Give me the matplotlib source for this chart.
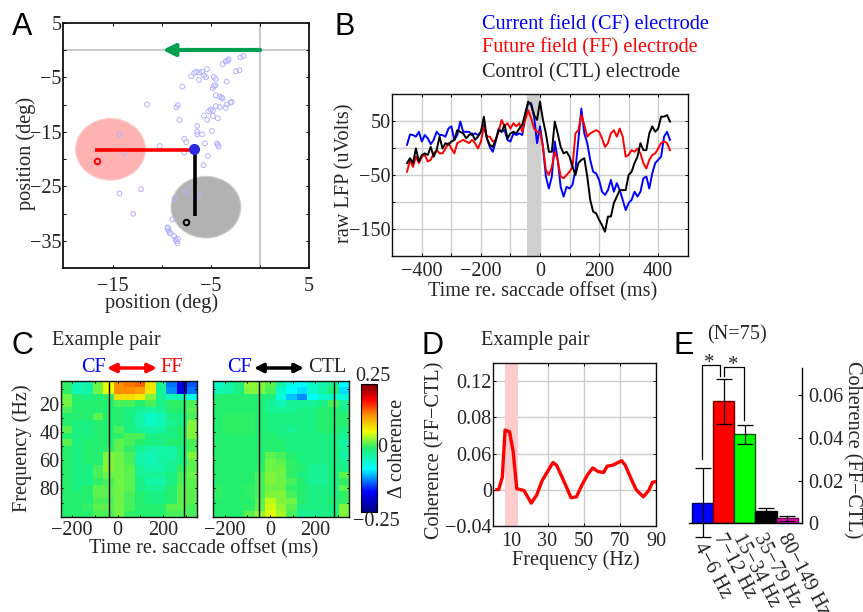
import matplotlib
matplotlib.use('Agg')
import matplotlib.pyplot as plt
import numpy as np
from matplotlib.colors import LinearSegmentedColormap
from matplotlib.patches import Ellipse

plt.rcParams['font.family'] = ['Liberation Serif', 'DejaVu Sans']
plt.rcParams['font.size'] = 14.6
plt.rcParams['text.color'] = '#262626'
plt.rcParams['axes.labelcolor'] = '#262626'
plt.rcParams['xtick.labelcolor'] = '#262626'
plt.rcParams['ytick.labelcolor'] = '#262626'

W, H = 863, 612

# panel A
rf_x = [-1.7, -2.0, -3.2, -3.3, -3.5, -3.8, -5.4, -2.1, -2.45, -5.9, -6.2, -6.5, -6.7, -7.0, -5.7, -5.5, -6.2,
        -4.7, -4.5, -3.4, -4.55, -4.7, -4.8, -7.9, -4.5, -4.1, -3.9, -3.8, -2.9, -3.0, -3.4, -4.5, -4.1, -3.5,
        -11.5, -8.35, -8.5, -5.0, -5.2, -4.8, -5.7, -4.8, -4.3, -5.4, -8.2, -6.4, -6.4, -4.9, -6.4, -5.9, -14.3,
        -7.7, -7.5, -5.6, -4.4, -4.3, -4.2, -10.2, -13.8, -7.7, -5.3, -5.75, -6.8, -7.5, -6.3, -14.3, -12.1,
        -6.6, -8.7, -12.9, -8.9, -9.4, -9.4, -9.3, -9.2, -9.1, -8.75, -8.6, -8.35, -8.5, -8.4]
rf_y = [-1.1, -1.35, -1.7, -2.0, -2.1, -2.6, -3.5, -3.7, -3.9, -4.0, -4.1, -4.0, -4.2, -4.8, -4.65, -5.0, -5.5,
        -4.95, -5.3, -5.8, -6.5, -6.6, -7.0, -6.7, -8.3, -8.55, -8.7, -8.9, -9.5, -9.65, -10.0, -10.3, -10.45, -10.6,
        -10.0, -10.1, -10.5, -10.9, -11.2, -11.1, -12.0, -12.1, -12.5, -12.8, -12.8, -13.9, -15.0, -14.85, -15.45, -15.45, -15.45,
        -16.25, -16.9, -17.1, -17.1, -17.4, -17.7, -17.6, -18.8, -18.8, -19.4, -21.1, -24.8, -26.0, -26.6, -26.3, -25.5,
        -27.4, -27.2, -30.0, -31.0, -32.5, -32.7, -33.1, -33.5, -33.6, -34.1, -34.7, -34.6, -35.0, -35.4]
cf_pos = (-6.7, -18.2)
ff_center = (-15.2, -18.2)
ctl_center = (-5.5, -28.8)
field_size = (7.1, 11.3)
ff_site = (-16.6, -20.4)
ctl_site = (-7.5, -31.6)
ff_line_x = [-16.8, -6.6]
ff_line_y = [-18.3, -18.3]
ctl_line_x = [-6.6, -6.6]
ctl_line_y = [-18.3, -30.4]

# panel B
lfp_t = list(range(-450, 450, 10))
lfp_cf = [6, 25, 24, 21, 30, 12, 24, 18, 7, 15, 30, 24, 24, 21, 36, 40, 15, 24, 49, 30, 30, 30, 24, 27, 24, 30, 43, 18, 2, -7,
          12, 36, 30, 33, 15, 12, 27, 24, 27, 24, 61, 83, 83, 58, 9, 40, 2, -53, -75, -53, 12, -22, -72, -90, -72, -75, -68, -40, 15, 73,
          27, 9, -22, -44, -47, -59, -81, -87, -78, -59, -81, -65, -78, -96, -115, -102, -96, -81, -90, -81, -56, -53, -75, -47, -28, -22, -16, 21, 30, 15]
lfp_ff = [-44, -22, -35, -16, -28, -16, -13, -25, -22, -10, -4, -10, -10, -1, 9, -1, -10, 9, 12, 15, 12, 9, 15, 9, -1, 12, 40, 21, 21, 12,
          15, 30, 52, 40, 46, 36, 46, 40, 46, 30, 52, 70, 55, 36, 30, 30, 2, -41, -50, -35, -7, -22, -53, -56, -50, -44, -35, 27, 33, 61,
          43, 21, 27, 30, 33, 30, 18, 2, 9, 27, 33, 21, 36, 21, -16, -13, -4, -7, -1, -10, -28, -38, -22, -13, -10, -1, 9, 12, 9, -4]
lfp_ctl = [-28, -19, -28, -1, -25, -13, -10, -13, 2, -16, -4, 21, -1, 9, 6, 12, 15, 33, 30, 27, 18, 24, 27, 15, 21, 30, 58, 18, 6, 2,
           15, 33, 30, 43, 18, 27, 30, 27, 36, 43, 64, 86, 80, 61, 52, 86, 52, 27, -7, -7, 49, 27, 2, -10, -7, -16, -35, -50, -28, -22,
           -19, -53, -96, -118, -121, -133, -143, -155, -127, -127, -102, -90, -78, -78, -78, -50, -44, -28, -16, 9, -4, -4, 27, 40, 30, 36, 58, 58, 61, 49]
gray_band = (-45, 0)

# panel C, delta coherence, rows top to bottom
coh_ff = [
    [.005, -.04, -.03, .025, .065, .13, .14, .15, .08, -.02, -.13, -.19, -.14],
    [.005, -.04, -.03, .025, .065, .13, .13, .12, .08, -.02, -.12, -.18, -.13],
    [.025, 0, -.01, 0, .005, .085, .085, .075, .03, -.02, -.04, -.04, -.07],
    [.025, 0, 0, 0, 0, .012, .012, 0, .012, -.01, .005, .005, .012],
    [.012, 0, 0, 0, 0, 0, -.01, -.02, -.03, -.02, 0, 0, .018],
    [0, 0, 0, .018, 0, 0, -.01, -.03, -.05, -.04, -.01, -.01, .012],
    [0, -.01, -.01, 0, 0, 0, -.01, -.03, -.05, -.04, -.02, -.01, .03],
    [.018, -.01, -.01, 0, 0, .012, -.01, -.02, -.03, -.03, -.01, 0, .03],
    [0, -.01, -.01, 0, 0, .005, .012, .012, -.01, -.01, -.01, 0, .03],
    [.018, -.01, 0, 0, 0, .018, .012, 0, -.01, -.01, 0, 0, .012],
    [0, -.01, 0, 0, .005, .018, .005, -.02, -.03, -.03, -.03, -.01, .012],
    [0, -.01, 0, 0, .03, .025, .012, -.03, -.04, -.03, -.03, -.01, .03],
    [0, -.01, 0, 0, .03, .025, .012, -.03, -.04, -.03, -.02, -.01, .018],
    [0, -.01, -.01, .012, .03, .025, .018, -.02, -.03, -.03, -.02, .005, .018],
    [0, -.01, -.01, .012, .025, .025, .018, -.02, -.02, -.02, -.01, .012, .025],
    [0, -.01, -.01, .005, .012, .025, .018, -.01, -.03, -.03, -.01, .012, .018],
    [0, -.01, 0, .018, .018, .025, .018, -.01, -.02, -.02, 0, .018, .018],
    [0, 0, 0, .018, .018, .025, .012, 0, -.01, -.01, 0, .018, .018],
    [0, 0, 0, .012, .012, .025, .012, 0, -.01, -.01, 0, .018, .018],
    [0, 0, .005, .018, .018, .025, .012, 0, 0, 0, .018, .018, .012],
    [0, 0, 0, .012, .012, .025, .005, 0, 0, 0, .012, .012, .012],
]
coh_ctl = [
    [-.05, -.03, -.01, .036, .03, .018, -.03, -.07, -.08, -.05, -.03, -.02, -.08],
    [-.04, -.03, -.01, .03, .03, .012, -.05, -.08, -.09, -.05, -.03, 0, -.09],
    [0, 0, 0, 0, 0, -.01, -.06, -.10, -.12, -.08, -.05, -.05, -.06],
    [0, 0, 0, 0, 0, -.02, -.04, -.02, -.02, -.02, -.01, .012, -.02],
    [0, 0, 0, 0, 0, -.02, -.02, -.02, -.01, -.01, 0, 0, -.01],
    [0, .005, .005, .005, 0, -.01, -.01, -.01, -.01, -.01, 0, 0, 0],
    [0, .005, .005, .005, 0, -.01, -.01, -.01, -.01, -.01, 0, 0, 0],
    [0, .005, .005, .005, 0, -.01, -.01, -.02, -.01, -.01, 0, 0, -.01],
    [0, 0, 0, 0, 0, 0, -.01, -.01, -.01, -.01, -.01, -.01, -.02],
    [0, 0, 0, 0, 0, 0, 0, -.01, -.01, -.01, -.01, -.01, -.03],
    [0, 0, 0, 0, 0, 0, 0, -.01, -.01, -.01, -.01, -.01, -.02],
    [0, 0, 0, 0, 0, .018, .012, 0, -.01, -.01, -.01, -.01, -.03],
    [0, 0, 0, 0, 0, .025, .018, .005, -.01, -.01, -.01, -.01, -.02],
    [0, 0, 0, 0, .005, .025, .025, .005, 0, -.02, -.02, -.01, -.01],
    [0, 0, 0, 0, .012, .03, .025, .005, -.01, -.02, -.02, -.01, .018],
    [0, 0, 0, 0, .012, .03, .025, .012, 0, -.02, -.02, -.01, .005],
    [.005, 0, 0, .005, .012, .025, .025, .005, 0, -.01, -.01, -.01, .018],
    [.005, 0, 0, .005, .012, .03, .03, .012, 0, -.01, -.01, -.01, .005],
    [0, 0, 0, 0, .018, .05, .03, .025, 0, -.01, -.01, 0, .005],
    [0, 0, 0, .005, .018, .055, .036, .018, -.01, -.01, -.01, -.01, .03],
    [0, 0, 0, .018, .036, .06, .042, .012, -.02, -.02, -.01, -.01, .03],
]
event_ff = [-38, 290]
event_ctl = [-47, 284]

# panel D
spec_f = [2, 3, 5, 6.5, 9, 11, 13, 15, 17, 19, 21, 24, 27, 30, 33, 35, 38, 40, 43, 46, 49, 52, 55, 58, 61, 63, 66, 69, 71, 73, 76, 79, 83, 86, 88, 90]
spec_c = [0, 0, .014, .066, .064, .042, .001, 0, -.001, -.008, -.015, -.006, .01, .02, .03, .027, .014, .005, -.009, -.008, .005, .016, .024, .02, .019, .026, .027, .03, .032, .027, .013, 0, -.008, -.001, .008, .009]
alpha_band = (6.6, 13.5)
spec_yticks = [-.04, 0, .04, .08, .12]
spec_yticklabels = ['−0.04', '0', '0.06', '0.08', '0.12']

# panel E
bands = ['4−6 Hz', '7−12 Hz', '15−34 Hz', '35−79 Hz', '80−149 Hz']
band_coh = [.0097, .057, .0416, .0056, .0023]
band_err = [.0162, .0105, .0045, .0015, .0013]
band_col = ['#0000ff', '#ff0000', '#00ff00', '#000000', '#ff00cc']
band_edge = ['#000066', '#660000', '#005500', '#000000', '#660044']


def add_ax(left, top, right, bottom):
    return fig.add_axes([left/W, 1-bottom/H, (right-left)/W, (bottom-top)/H])


def ftxt(x, y, s, ha='center', va='center', **kw):
    return fig.text(x/W, 1-y/H, s, ha=ha, va=va, **kw)


def farrow(x0, x1, y, style, color, lw=2.5):
    fig.add_artist(matplotlib.patches.FancyArrowPatch((x0/W, 1-y/H), (x1/W, 1-y/H), transform=fig.transFigure,
                                                      arrowstyle=style, mutation_scale=13, color=color, lw=lw,
                                                      shrinkA=0, shrinkB=0))


def style_ticks(ax, lw=1.0, length=2.5, xpad=4.5):
    ax.tick_params(which='both', direction='in', top=True, right=True, length=length, width=0.7)
    ax.tick_params(axis='y', pad=1)
    ax.tick_params(axis='x', pad=xpad)
    for s in ax.spines.values():
        s.set_linewidth(lw)
        s.set_color('#111111')


fig = plt.figure(figsize=(W/100, H/100), dpi=100)

for x, y, s in [(22, 27, 'A'), (345, 27, 'B'), (22, 346, 'C'), (433, 346, 'D'), (684, 346, 'E')]:
    ftxt(x, y, s, fontsize=22, color='black', family='Liberation Sans')

# A
ax = add_ax(63.3, 22.7, 309.3, 268.3)
ax.axhline(0, color='#c0c0c0', lw=1.2, zorder=1)
ax.axvline(0, color='#c0c0c0', lw=1.2, zorder=1)
ax.add_patch(Ellipse(ff_center, field_size[0], field_size[1], fc='#ffb2b2', ec='#ffd0d0', lw=0.8, zorder=1))
ax.add_patch(Ellipse(ctl_center, field_size[0], field_size[1], fc='#b2b2b2', ec='#d0d0d0', lw=0.8, zorder=1))
ax.scatter(rf_x, rf_y, s=12, facecolors='none', edgecolors='#b3b3ff', linewidths=0.7, zorder=2)
ax.plot(ff_line_x, ff_line_y, color='red', lw=2.6, solid_capstyle='butt', zorder=3)
ax.plot(ctl_line_x, ctl_line_y, color='black', lw=2.6, solid_capstyle='butt', zorder=3)
ax.plot(*cf_pos, 'o', color='#2a2ae0', ms=7, zorder=4)
ax.plot(*ff_site, 'o', mfc='#ffb2b2', mec='red', mew=1.4, ms=4, zorder=4)
ax.plot(*ctl_site, 'o', mfc='#b2b2b2', mec='black', mew=1.4, ms=4, zorder=4)
ax.annotate('', xy=(-9.9, 0), xytext=(0, 0),
            arrowprops=dict(arrowstyle='-|>', color='#009e4f', lw=3, mutation_scale=18, shrinkA=0, shrinkB=0), zorder=5)
ax.set_xlim(-20, 5)
ax.set_ylim(-40, 5)
ax.set_xticks([-15, -10, -5, 0, 5])
ax.set_xticklabels(['−15', '', '−5', '', '5'])
ax.set_yticks([5, 0, -5, -10, -15, -20, -25, -30, -35])
ax.set_yticklabels(['5', '', '−5', '', '−15', '', '−25', '', '−35'])
style_ticks(ax, lw=1.3, xpad=6)
ftxt(26, 153, 'position (deg)', rotation=90)
ftxt(162, 303, 'position (deg)')

# B
ax = add_ax(392.3, 94, 687.7, 256)
ax.grid(True, color='#cccccc', lw=1)
ax.set_axisbelow(True)
ax.axvspan(gray_band[0], gray_band[1], color='#cfcfcf', lw=0, zorder=1)
ax.plot(lfp_t, lfp_cf, color='#0000ff', lw=1.4, zorder=3)
ax.plot(lfp_t, lfp_ff, color='#ff0000', lw=1.4, zorder=3)
ax.plot(lfp_t, lfp_ctl, color='#000000', lw=1.4, zorder=4)
ax.set_xlim(-500, 500)
ax.set_ylim(-200, 100)
ax.set_xticks([-400, -300, -200, -100, 0, 100, 200, 300, 400])
ax.set_xticklabels(['−400', '', '−200', '', '0', '', '200', '', '400'])
ax.set_yticks([-150, -100, -50, 0, 50])
ax.set_yticklabels(['−150', '', '−50', '', '50'])
style_ticks(ax)
ftxt(345, 173, 'raw LFP (uVolts)', rotation=90)
ftxt(543, 292, 'Time re. saccade offset (ms)')
ftxt(481.5, 25, 'Current field (CF) electrode', ha='left', color='#0000ff')
ftxt(481.5, 48, 'Future field (FF) electrode', ha='left', color='#ff0000')
ftxt(481.5, 73, 'Control (CTL) electrode', ha='left', color='#262626')

# C
cmap = LinearSegmentedColormap.from_list('coh', [
    (0, '#00007f'), (.16, '#0000ff'), (.34, '#00ffff'), (.5, '#20ee70'), (.63, '#eeff00'),
    (.76, '#ff9000'), (.88, '#ff0000'), (1, '#7f0000')])
for i, (mat, ev, box) in enumerate([(coh_ff, event_ff, (60.7, 197.3)), (coh_ctl, event_ctl, (213.3, 349.3))]):
    ax = add_ax(box[0], 381, box[1], 516.7)
    im = ax.imshow(np.array(mat), cmap=cmap, vmin=-.25, vmax=.25, aspect='auto',
                   extent=[-250, 350, 100, 4], interpolation='nearest')
    for e in ev:
        ax.axvline(e, color='black', lw=1)
    ax.set_xticks([-200, -100, 0, 100, 200, 300])
    ax.set_xticklabels(['−200', '', '0', '', '200', ''])
    ax.set_yticks([10, 20, 30, 40, 50, 60, 70, 80, 90])
    if i == 0:
        ax.set_yticklabels(['', '20', '', '40', '', '60', '', '80', ''])
    else:
        ax.set_yticklabels([])
    style_ticks(ax, length=1.5, xpad=3)
ftxt(22, 448, 'Frequency (Hz)', rotation=90)
ftxt(204, 549, 'Time re. saccade offset (ms)')
ftxt(106, 340.5, 'Example pair')
ftxt(93, 367.5, 'CF', color='#0000ff')
ftxt(172, 367, 'FF', color='#ff0000')
ftxt(239, 367.5, 'CF', color='#0000ff')
ftxt(327, 367.5, 'CTL')
farrow(107, 157, 368, '<|-|>', 'red')
farrow(254, 304, 368, '<|-|>', 'black')

cax = add_ax(361, 384.3, 376.7, 512.3)
cb = fig.colorbar(im, cax=cax)
cb.set_ticks([])
cb.outline.set_linewidth(0.8)
ftxt(373, 376.5, '0.25')
ftxt(376, 522, '−0.25')
ftxt(382.5, 447, '0')
ftxt(397, 448, 'Δ coherence', rotation=90)

# D
ax = add_ax(493.3, 363.3, 656, 525.7)
ax.grid(True, color='#cccccc', lw=1)
ax.set_axisbelow(True)
ax.axvspan(alpha_band[0], alpha_band[1], color='#ffcccc', lw=0, zorder=1)
ax.plot(spec_f, spec_c, color='#ff0000', lw=2.4, zorder=3)
ax.set_xlim(0, 90)
ax.set_ylim(-.04, .14)
ax.set_xticks([10, 30, 50, 70, 90])
ax.set_yticks(spec_yticks)
ax.set_yticklabels(spec_yticklabels)
style_ticks(ax)
ftxt(435, 450, 'Coherence (FF−CTL)', rotation=90)
ftxt(576, 560, 'Frequency (Hz)')
ftxt(535, 340.5, 'Example pair')

# E
ax = add_ax(689.3, 368.3, 802.3, 523.3)
xpos = np.arange(len(bands))
ax.bar(xpos, band_coh, width=1, color=band_col, edgecolor=band_edge, lw=1, zorder=2)
ax.errorbar(xpos, band_coh, yerr=band_err, fmt='none', ecolor='black', elinewidth=0.9, capsize=6, capthick=0.9,
            clip_on=False, zorder=3)
for line in ax.lines:
    line.set_clip_on(False)
for coll in ax.collections:
    coll.set_clip_on(False)
ax.plot([-.04, -.04, .825, .825], [.0299, .074, .074, .0688], color='black', lw=0.9, clip_on=False)
ax.plot([1.014, 1.014, 1.976, 1.976], [.0688, .0732, .0732, .0483], color='black', lw=0.9, clip_on=False)
ax.set_xlim(-.63, 4.72)
ax.set_ylim(0, .0725)
ax.spines['top'].set_visible(False)
ax.spines['left'].set_visible(False)
ax.yaxis.tick_right()
ax.set_yticks([0, .02, .04, .06])
ax.set_yticklabels(['0', '0.02', '0.04', '0.06'])
ax.tick_params(axis='y', direction='in', length=3, width=0.8, pad=4)
ax.set_xticks([])
for s in ['right', 'bottom']:
    ax.spines[s].set_linewidth(1)
ftxt(737, 335, '(N=75)')
ftxt(709, 363, '*', fontsize=15)
ftxt(733, 365, '*', fontsize=15)
ftxt(852, 450, 'Coherence (FF−CTL)', rotation=270)
for lab, lx, ly in zip(bands, [698, 718, 737, 758, 782], [544, 535, 535, 535, 535]):
    ftxt(lx, ly, lab, ha='left', rotation=-62, rotation_mode='anchor')

fig.savefig('out.png', dpi=100)
